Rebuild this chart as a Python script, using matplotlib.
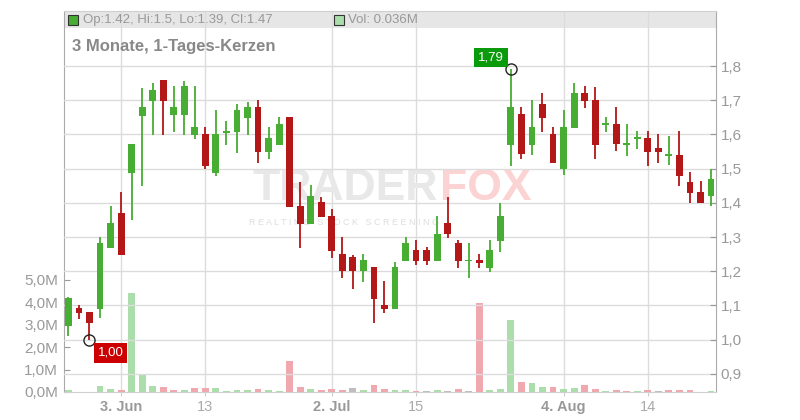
import matplotlib
matplotlib.use('Agg')
import matplotlib.pyplot as plt
import numpy as np
import pandas as pd
from matplotlib.ticker import FuncFormatter
from matplotlib.patches import Rectangle

plt.rcParams['font.family'] = ['Liberation Sans', 'DejaVu Sans']

# ---------------- data ----------------
dates = pd.bdate_range('2025-05-27', '2025-08-22', freq='C',
                       holidays=['2025-06-19', '2025-07-04'])

opens = [1.04, 1.092, 1.081, 1.09, 1.269, 1.37, 1.488, 1.655, 1.699, 1.759,
         1.658, 1.658, 1.599, 1.601, 1.488, 1.605, 1.608, 1.649, 1.68, 1.55,
         1.57, 1.651, 1.391, 1.339, 1.402, 1.361, 1.251, 1.242, 1.20, 1.212,
         1.101, 1.09, 1.231, 1.262, 1.262, 1.231, 1.341, 1.282, 1.229, 1.233,
         1.21, 1.289, 1.57, 1.66, 1.57, 1.689, 1.601, 1.50, 1.62, 1.721,
         1.70, 1.628, 1.63, 1.569, 1.587, 1.59, 1.56, 1.537, 1.54, 1.461,
         1.432, 1.42]
highs = [1.125, 1.10, 1.081, 1.30, 1.39, 1.432, 1.572, 1.736, 1.75, 1.759,
         1.742, 1.756, 1.742, 1.622, 1.671, 1.639, 1.689, 1.695, 1.70, 1.622,
         1.651, 1.651, 1.461, 1.452, 1.417, 1.382, 1.299, 1.248, 1.25, 1.212,
         1.171, 1.227, 1.30, 1.291, 1.271, 1.361, 1.417, 1.291, 1.282, 1.25,
         1.291, 1.399, 1.79, 1.68, 1.70, 1.721, 1.622, 1.671, 1.75, 1.742,
         1.739, 1.651, 1.68, 1.63, 1.61, 1.61, 1.601, 1.595, 1.61, 1.49,
         1.464, 1.50]
lows = [1.01, 1.06, 1.00, 1.064, 1.269, 1.248, 1.351, 1.45, 1.599, 1.599,
        1.608, 1.599, 1.588, 1.50, 1.479, 1.57, 1.547, 1.599, 1.517, 1.529,
        1.57, 1.389, 1.269, 1.339, 1.359, 1.24, 1.181, 1.149, 1.169, 1.05,
        1.079, 1.09, 1.231, 1.219, 1.219, 1.231, 1.298, 1.21, 1.181, 1.21,
        1.199, 1.257, 1.509, 1.529, 1.541, 1.608, 1.517, 1.482, 1.62, 1.678,
        1.529, 1.608, 1.552, 1.538, 1.558, 1.509, 1.517, 1.512, 1.45, 1.40,
        1.40, 1.39]
closes = [1.122, 1.079, 1.05, 1.282, 1.341, 1.248, 1.572, 1.68, 1.73, 1.699,
          1.68, 1.742, 1.622, 1.509, 1.601, 1.61, 1.671, 1.68, 1.55, 1.59,
          1.63, 1.389, 1.339, 1.42, 1.359, 1.26, 1.20, 1.20, 1.233, 1.12,
          1.09, 1.212, 1.282, 1.231, 1.231, 1.31, 1.31, 1.231, 1.231, 1.225,
          1.262, 1.361, 1.68, 1.544, 1.622, 1.649, 1.517, 1.622, 1.721, 1.699,
          1.57, 1.63, 1.573, 1.571, 1.589, 1.55, 1.55, 1.539, 1.479, 1.43,
          1.40, 1.47]
volumes = [0.07, 0.01, 0.01, 0.25, 0.12, 0.09, 4.42, 0.74, 0.25, 0.21,
           0.07, 0.07, 0.16, 0.16, 0.16, 0.045, 0.07, 0.07, 0.12, 0.07,
           0.045, 1.37, 0.21, 0.12, 0.07, 0.12, 0.07, 0.16, 0.07, 0.30,
           0.12, 0.07, 0.07, 0.03, 0.03, 0.07, 0.03, 0.12, 0.03, 3.97,
           0.07, 0.12, 3.2, 0.43, 0.39, 0.21, 0.21, 0.12, 0.16, 0.30,
           0.12, 0.03, 0.07, 0.03, 0.03, 0.07, 0.03, 0.07, 0.07, 0.07,
           0.01, 0.036]

tick_dates = ['2025-06-03', '2025-06-13', '2025-07-02', '2025-07-15', '2025-08-04', '2025-08-14']
tick_labels = ['3. Jun', '13', '2. Jul', '15', '4. Aug', '14']
price_ticks = [0.9, 1.0, 1.1, 1.2, 1.3, 1.4, 1.5, 1.6, 1.7, 1.8]
vol_ticks = [0, 1, 2, 3, 4, 5]
title = '3 Monate, 1-Tages-Kerzen'

# ---------------- styling ----------------
GREEN = '#48ad33'
RED = '#b31717'
VGREEN = '#abdeab'
VRED = '#f0a7ae'
VGREY = '#bdbdbd'
TXT = '#999999'

o = np.array(opens); h = np.array(highs); l = np.array(lows); c = np.array(closes)
v = np.array(volumes)
x = np.arange(len(dates))

fig = plt.figure(figsize=(8, 4.2), dpi=100)
axv = fig.add_axes([0.0796, 0.0667, 0.8158, 0.9071])
ax = axv.twinx()
ax.set_zorder(axv.get_zorder() + 1)
ax.patch.set_visible(False)

axv.set_xlim(-0.45, 61.5)
ax.set_ylim(0.847, 1.961)
axv.set_ylim(0, 17.0)

# volume bars coloured by close vs previous close
vcol = []
for i in range(len(c)):
    if i == 0 or c[i] > c[i - 1] + 1e-9:
        vcol.append(VGREEN)
    elif c[i] < c[i - 1] - 1e-9:
        vcol.append(VRED)
    else:
        vcol.append(VGREY)
axv.bar(x, v, width=0.65, color=vcol, zorder=2)

# candles
ccol = [GREEN if cc >= oo else RED for oo, cc in zip(o, c)]
ax.vlines(x, l, h, colors=ccol, lw=1.3, zorder=3)
body_b = np.minimum(o, c)
body_h = np.maximum(np.abs(c - o), 0.005)
ax.bar(x, body_h, bottom=body_b, width=0.65, color=ccol, zorder=4)

# grid
ax.set_yticks(price_ticks)
ax.grid(axis='y', color='#dcdcdc', lw=1, zorder=0)
tick_idx = [int(np.where(dates == pd.Timestamp(d))[0][0]) for d in tick_dates]
axv.set_xticks(tick_idx)
axv.set_xticklabels(tick_labels)
axv.set_axisbelow(True)
axv.grid(axis='x', color='#dcdcdc', lw=1)
for lab in axv.get_xticklabels():
    if '.' in lab.get_text():
        lab.set_fontweight('bold')
        lab.set_color('#999999')
    else:
        lab.set_color('#aaaaaa')

ax.yaxis.set_major_formatter(FuncFormatter(lambda val, _: f"{val:.1f}".replace('.', ',')))
axv.set_yticks(vol_ticks)
axv.yaxis.set_major_formatter(FuncFormatter(lambda val, _: f"{val:.1f}M".replace('.', ',')))

ax.tick_params(axis='y', direction='in', length=4, color='#999999', labelcolor=TXT,
               labelsize=11, pad=3)
axv.tick_params(axis='y', direction='in', length=4, color='#999999', labelcolor=TXT,
                labelsize=11, pad=4)
axv.tick_params(axis='x', length=3, color='#cccccc', labelsize=10.5, pad=3)

for sp in ax.spines.values():
    sp.set_visible(False)
axv.spines['left'].set_color('#aaaaaa')
axv.spines['right'].set_color('#aaaaaa')
axv.spines['top'].set_color('#d0d0d0')
axv.spines['bottom'].set_color('#d0d0d0')

# legend band
axv.add_patch(Rectangle((0, 0.955), 1, 0.045, transform=axv.transAxes,
                        facecolor='#e6e6e6', edgecolor='none', zorder=0.1))
axv.add_patch(Rectangle((0.0066, 0.963), 0.0153, 0.0262, transform=axv.transAxes,
                        facecolor=GREEN, edgecolor='#333333', lw=0.8, zorder=5))
axv.text(0.0296, 0.977, f"Op:{o[-1]:g}, Hi:{h[-1]:g}, Lo:{l[-1]:g}, Cl:{c[-1]:g}",
         transform=axv.transAxes, ha='left', va='center', fontsize=9.5, color=TXT, zorder=5)
axv.add_patch(Rectangle((0.4142, 0.963), 0.0153, 0.0262, transform=axv.transAxes,
                        facecolor=VGREEN, edgecolor='#333333', lw=0.8, zorder=5))
axv.text(0.4357, 0.977, f"Vol: {v[-1]:.3f}M", transform=axv.transAxes,
         ha='left', va='center', fontsize=9.5, color=TXT, zorder=5)

# title
axv.text(0.0129, 0.906, title, transform=axv.transAxes, ha='left', va='center',
         fontsize=12, fontweight='bold', color='#888888', zorder=5)

# watermark
axv.text(0.574, 0.535, 'TRADER', transform=axv.transAxes, ha='right', va='center',
         fontsize=32, fontweight='bold', color='#e8e8e8', zorder=1)
axv.text(0.576, 0.535, 'FOX', transform=axv.transAxes, ha='left', va='center',
         fontsize=32, fontweight='bold', color='#fbd3d3', zorder=1)
axv.text(0.43, 0.445, 'R E A L T I M E   S T O C K   S C R E E N I N G', transform=axv.transAxes,
         ha='center', va='center', fontsize=6.5, color='#dddddd', zorder=1)

# high / low markers
ih = int(np.argmax(h)); il = int(np.argmin(l))
ax.plot([ih], [h[ih]], 'o', mfc='none', mec='#222222', ms=8, mew=1, zorder=6)
ax.plot([il], [l[il]], 'o', mfc='none', mec='#222222', ms=8, mew=1, zorder=6)
ax.annotate(f"{h[ih]:.2f}".replace('.', ','), xy=(ih, h[ih]), xytext=(-20, 12),
            textcoords='offset pixels', ha='center', va='center', color='white',
            fontsize=9.5, zorder=7,
            bbox=dict(boxstyle='square,pad=0.3', fc='#0b9a0b', ec='none'))
ax.annotate(f"{l[il]:.2f}".replace('.', ','), xy=(il, l[il]), xytext=(21, -13),
            textcoords='offset pixels', ha='center', va='center', color='white',
            fontsize=9.5, zorder=7,
            bbox=dict(boxstyle='square,pad=0.3', fc='#cc0000', ec='none'))

fig.savefig('out.png', dpi=100)
